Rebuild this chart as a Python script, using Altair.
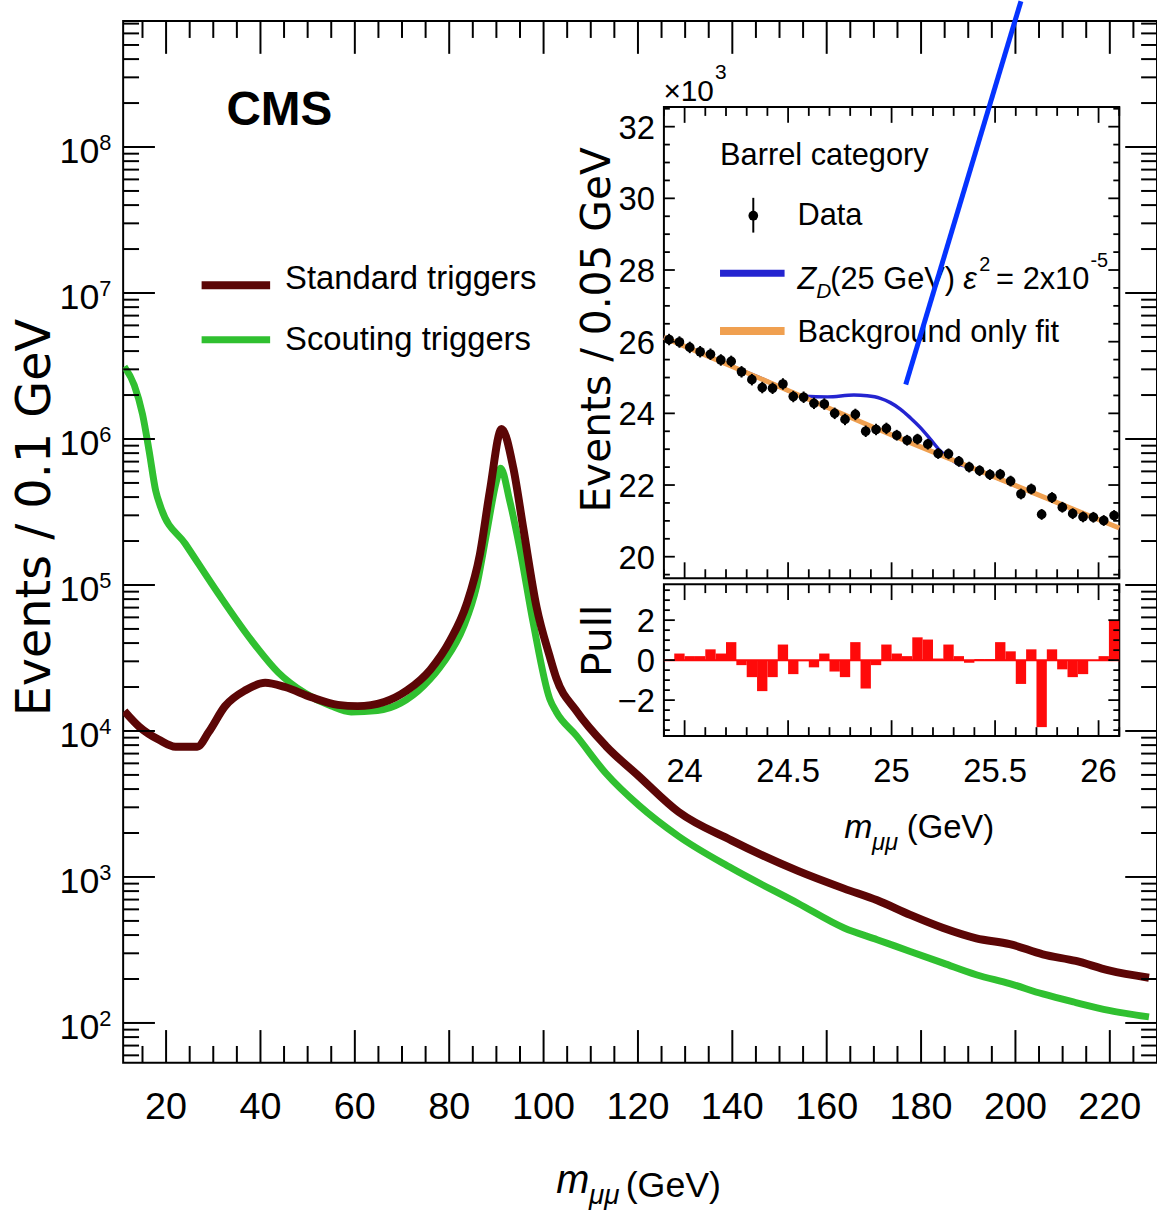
import altair as alt
import pandas as pd

# ---------------- main spectrum: events / 0.1 GeV ----------------
std_mass = [11.15, 14.3, 18.5, 22.0, 26.6, 29.0, 32.5, 36.8, 41.0, 45.2, 50.8, 56.4, 60.6,
            66.2, 71.1, 76.0, 80.2, 83.7, 86.5, 88.6, 91.1, 93.6, 95.7, 98.5, 101.3, 102.7,
            106.9, 113.2, 120.2, 128.6, 139.8, 153.9, 163.7, 170.7, 177.7, 184.7, 191.7,
            198.8, 205.8, 212.8, 219.8, 228.3]
std_events = [13700, 10700, 8700, 7800, 7800, 9800, 14800, 19000, 21400, 20000, 17000, 15100,
              14800, 15800, 19000, 26300, 41700, 74100, 162000, 437000, 1170000, 630000,
              245000, 71000, 32400, 23000, 13800, 7900, 4900, 2790, 1780, 1100, 832, 692,
              550, 447, 380, 347, 295, 266, 229, 204]

sct_mass = [11.15, 13.25, 15.0, 16.4, 17.8, 18.9, 24.1, 31.1, 38.1, 43.8, 49.4, 55.0, 59.2,
            64.8, 69.7, 74.6, 78.8, 83.0, 85.8, 87.9, 90.0, 90.9, 92.8, 94.9, 97.8, 101.3,
            102.7, 106.9, 113.2, 120.2, 128.6, 139.8, 153.9, 163.7, 170.7, 177.7, 184.7,
            191.7, 198.8, 205.8, 212.8, 219.8, 228.3]
sct_events = [3130000, 2340000, 1480000, 830000, 442000, 339000, 191000, 87000, 41700, 25100,
              18200, 14800, 13500, 13800, 15500, 20400, 29500, 51300, 97700, 224000, 513000,
              631000, 380000, 182000, 55000, 16600, 13500, 9330, 5130, 3090, 1900, 1150, 661,
              447, 372, 309, 257, 214, 186, 158, 138, 122, 110]

# ---------------- barrel category around 25 GeV (x10^3 events / 0.05 GeV) ----------------
bin_mass = [round(23.925 + 0.05 * i, 3) for i in range(44)]
data_k = [26.06, 25.99, 25.84, 25.72, 25.65, 25.49, 25.45, 25.16, 24.94, 24.72,
          24.70, 24.82, 24.47, 24.45, 24.28, 24.26, 24.00, 23.83, 23.97, 23.50,
          23.55, 23.58, 23.39, 23.25, 23.28, 23.14, 22.88, 22.87, 22.66, 22.50,
          22.40, 22.29, 22.30, 22.11, 21.75, 21.89, 21.18, 21.65, 21.38, 21.20,
          21.11, 21.10, 21.01, 21.15]
data_err_k = [0.16, 0.16, 0.16, 0.16, 0.16, 0.16, 0.16, 0.16, 0.16, 0.16, 0.16,
              0.16, 0.16, 0.16, 0.16, 0.16, 0.16, 0.16, 0.16, 0.16, 0.16, 0.16,
              0.15, 0.15, 0.15, 0.15, 0.15, 0.15, 0.15, 0.15, 0.15, 0.15, 0.15,
              0.15, 0.15, 0.15, 0.15, 0.15, 0.15, 0.15, 0.15, 0.15, 0.15, 0.15]
pull = [0.0, 0.33, 0.2, 0.2, 0.54, 0.33, 0.9, -0.25, -0.85, -1.55,
        -0.85, 0.78, -0.7, -0.05, -0.36, 0.33, -0.57, -0.85, 0.9, -1.42,
        -0.25, 0.78, 0.33, 0.2, 1.14, 1.03, 0.08, 0.78, 0.2, -0.13,
        0.05, 0.05, 0.9, 0.44, -1.19, 0.54, -3.35, 0.54, -0.46, -0.85,
        -0.7, 0.0, 0.2, 1.96]

fit_mass = [23.9, 24.5, 25.0, 25.5, 26.1]
fit_k = [26.12, 24.64, 23.40, 22.22, 20.80]

zd_mass = [23.9, 24.2, 24.4, 24.467, 24.578, 24.69, 24.818, 24.882, 24.946, 24.994, 25.042,
           25.09, 25.138, 25.186, 25.234, 25.282, 25.33, 25.377, 25.45, 26.1]
zd_k = [26.12, 25.38, 24.90, 24.72, 24.48, 24.46, 24.51, 24.49, 24.42, 24.30, 24.12,
        23.88, 23.61, 23.29, 22.96, 22.73, 22.57, 22.50, 22.33, 20.80]

# ---------------- axis tick values and labels ----------------
main_x_labels = [20, 40, 60, 80, 100, 120, 140, 160, 180, 200, 220]
main_x_minor = [v for v in range(15, 230, 5) if v % 20]
main_y_labels = [1e2, 1e3, 1e4, 1e5, 1e6, 1e7, 1e8]
main_y_exp = ["2", "3", "4", "5", "6", "7", "8"]
main_y_minor = [k * 10 ** d for d in range(1, 9) for k in range(2, 10)
                if 53.3 <= k * 10 ** d <= 7.29e8]
inset_x_labels = [24, 24.5, 25, 25.5, 26]
inset_x_text = ["24", "24.5", "25", "25.5", "26"]
inset_x_minor = [round(23.9 + 0.1 * i, 2) for i in range(23) if round((23.9 + 0.1 * i) * 10) % 5]
inset_y_labels = [20, 22, 24, 26, 28, 30, 32]
inset_y_minor = [v / 2 for v in range(39, 66) if v % 4]
pull_labels = [-2, 0, 2]
pull_text = ["\u22122", "0", "2"]
pull_minor = [v / 2 for v in range(-7, 8) if v % 4]

# ---------------- layout / style ----------------
W, H = 1041, 1049
PAD_L, PAD_T = 124, 17
IX0, IX1 = 544.5, 1003       # inset horizontal extent
IY_TOP, IY_BOT = 86.5, 561   # inset upper panel
PY_TOP, PY_BOT = 567, 720    # inset pull panel

SANS = "Liberation Sans, Arial, Helvetica, sans-serif"
WIDE = "DejaVu Sans, Liberation Sans, sans-serif"
BROWN = "#5c0606"
GREEN = "#30c030"
BLUE = "#2424d0"
ORANGE = "#f0a050"
RED = "#ff0a0a"
ANNOT = "#0533ff"

ONE = pd.DataFrame({"k": [0]})

main_x = alt.Scale(domain=[10.9, 230], range=[0, W], nice=False, zero=False)
main_y = alt.Scale(type="log", domain=[53.3, 7.29e8], range=[H, 0], nice=False)
ins_x = alt.Scale(domain=[23.9, 26.1], range=[IX0, IX1], nice=False, zero=False)
ins_y = alt.Scale(domain=[19.4, 32.55], range=[IY_BOT, IY_TOP], nice=False, zero=False)
pul_x = alt.Scale(domain=[23.9, 26.1], range=[IX0, IX1], nice=False, zero=False)
pul_y = alt.Scale(domain=[-3.8, 3.8], range=[PY_BOT, PY_TOP], nice=False, zero=False)


def xticks(values, scale, edge, length, width=2):
    return alt.Chart(pd.DataFrame({"v": values})).mark_rule(color="black", strokeWidth=width).encode(
        x=alt.X("v:Q", scale=scale, axis=None),
        y=alt.value(edge), y2=alt.value(edge - length))


def yticks(values, scale, edge, length, width=2):
    return alt.Chart(pd.DataFrame({"v": values})).mark_rule(color="black", strokeWidth=width).encode(
        y=alt.Y("v:Q", scale=scale, axis=None),
        x=alt.value(edge), x2=alt.value(edge + length))


def xlabels(values, texts, scale, y, size):
    return alt.Chart(pd.DataFrame({"v": values, "t": texts})).mark_text(
        font=SANS, fontSize=size, align="center", baseline="alphabetic", color="black").encode(
        x=alt.X("v:Q", scale=scale, axis=None), y=alt.value(y), text="t:N")


def ylabels(values, texts, scale, x, size, dy, align="right"):
    return alt.Chart(pd.DataFrame({"v": values, "t": texts})).mark_text(
        font=SANS, fontSize=size, align=align, baseline="alphabetic", dy=dy, color="black").encode(
        y=alt.Y("v:Q", scale=scale, axis=None), x=alt.value(x), text="t:N")


def label(text, x, y, size, font=SANS, style="normal", weight="normal",
          align="left", baseline="alphabetic", angle=0):
    return alt.Chart(ONE).mark_text(text=text, font=font, fontSize=size, fontStyle=style,
                                    fontWeight=weight, align=align, baseline=baseline,
                                    angle=angle, color="black").encode(
        x=alt.value(x), y=alt.value(y))


def seg(x1, x2, y, color, width):
    return alt.Chart(ONE).mark_rule(color=color, strokeWidth=width).encode(
        x=alt.value(x1), x2=alt.value(x2), y=alt.value(y))


def box(x1, x2, y1, y2):
    return alt.Chart(ONE).mark_rect(fill="white", stroke="black", strokeWidth=2).encode(
        x=alt.value(x1), x2=alt.value(x2), y=alt.value(y1), y2=alt.value(y2))


# ---------------- main panel ----------------
green_line = alt.Chart(pd.DataFrame({"mass": sct_mass, "events": sct_events})).mark_line(
    color=GREEN, strokeWidth=7, interpolate="monotone", clip=True).encode(
    x=alt.X("mass:Q", scale=main_x, axis=None),
    y=alt.Y("events:Q", scale=main_y, axis=None))

brown_line = alt.Chart(pd.DataFrame({"mass": std_mass, "events": std_events})).mark_line(
    color=BROWN, strokeWidth=8, interpolate="monotone", clip=True).encode(
    x=alt.X("mass:Q", scale=main_x, axis=None),
    y=alt.Y("events:Q", scale=main_y, axis=None))

main = alt.layer(
    green_line, brown_line,
    xticks(main_x_labels, main_x, H, 33), xticks(main_x_minor, main_x, H, 17),
    xticks(main_x_labels, main_x, 0, -33), xticks(main_x_minor, main_x, 0, -17),
    yticks(main_y_labels, main_y, 0, 32), yticks(main_y_minor, main_y, 0, 16),
    yticks(main_y_labels, main_y, W, -32), yticks(main_y_minor, main_y, W, -16),
    xlabels(main_x_labels, [str(v) for v in main_x_labels], main_x, 1106, 38),
    ylabels(main_y_labels, ["10"] * len(main_y_labels), main_y, -24, 36, 16),
    ylabels(main_y_labels, main_y_exp, main_y, -24, 22, 3, align="left"),
)

# ---------------- inset: fit panel ----------------
pts = pd.DataFrame({"mass": bin_mass, "k": data_k})
pts["lo"] = pts["k"] - pd.Series(data_err_k)
pts["hi"] = pts["k"] + pd.Series(data_err_k)

zd_line = alt.Chart(pd.DataFrame({"mass": zd_mass, "k": zd_k})).mark_line(
    color=BLUE, strokeWidth=3.5, interpolate="monotone").encode(
    x=alt.X("mass:Q", scale=ins_x, axis=None),
    y=alt.Y("k:Q", scale=ins_y, axis=None))
fit_line = alt.Chart(pd.DataFrame({"mass": fit_mass, "k": fit_k})).mark_line(
    color=ORANGE, strokeWidth=5, interpolate="monotone").encode(
    x=alt.X("mass:Q", scale=ins_x, axis=None),
    y=alt.Y("k:Q", scale=ins_y, axis=None))
err_bars = alt.Chart(pts).mark_rule(color="black", strokeWidth=2).encode(
    x=alt.X("mass:Q", scale=ins_x, axis=None),
    y=alt.Y("lo:Q", scale=ins_y, axis=None), y2="hi:Q")
dots = alt.Chart(pts).mark_point(filled=True, size=95, color="black", opacity=1).encode(
    x=alt.X("mass:Q", scale=ins_x, axis=None),
    y=alt.Y("k:Q", scale=ins_y, axis=None))

inset_top = alt.layer(
    zd_line, fit_line, err_bars, dots,
    xticks(inset_x_labels, ins_x, IY_BOT, 16, 1.8), xticks(inset_x_minor, ins_x, IY_BOT, 9, 1.8),
    xticks(inset_x_labels, ins_x, IY_TOP, -16, 1.8), xticks(inset_x_minor, ins_x, IY_TOP, -9, 1.8),
    yticks(inset_y_labels, ins_y, IX0, 11, 1.8), yticks(inset_y_minor, ins_y, IX0, 6, 1.8),
    yticks(inset_y_labels, ins_y, IX1, -11, 1.8), yticks(inset_y_minor, ins_y, IX1, -6, 1.8),
    ylabels(inset_y_labels, [str(v) for v in inset_y_labels], ins_y, IX0 - 9, 33, 12),
)

# ---------------- inset: pull panel ----------------
pull_df = pd.DataFrame({"lo": [m - 0.025 for m in bin_mass],
                        "hi": [m + 0.025 for m in bin_mass], "pull": pull})
pull_bars = alt.Chart(pull_df).mark_rect(color=RED).encode(
    x=alt.X("lo:Q", scale=pul_x, axis=None),
    x2="hi:Q",
    y=alt.Y("pull:Q", scale=pul_y, axis=None),
    y2=alt.datum(0))
pull_zero = alt.Chart(pd.DataFrame({"lo": [23.9], "hi": [26.1], "z": [0]})).mark_rule(
    color=RED, strokeWidth=2).encode(
    x=alt.X("lo:Q", scale=pul_x, axis=None), x2="hi:Q",
    y=alt.Y("z:Q", scale=pul_y, axis=None))

inset_pull = alt.layer(
    pull_zero, pull_bars,
    xticks(inset_x_labels, pul_x, PY_BOT, 16, 1.8), xticks(inset_x_minor, pul_x, PY_BOT, 9, 1.8),
    xticks(inset_x_labels, pul_x, PY_TOP, -16, 1.8), xticks(inset_x_minor, pul_x, PY_TOP, -9, 1.8),
    yticks(pull_labels, pul_y, IX0, 11, 1.8), yticks(pull_minor, pul_y, IX0, 6, 1.8),
    yticks(pull_labels, pul_y, IX1, -11, 1.8), yticks(pull_minor, pul_y, IX1, -6, 1.8),
    xlabels(inset_x_labels, inset_x_text, pul_x, 766, 33),
    ylabels(pull_labels, pull_text, pul_y, IX0 - 9, 33, 12),
)

# ---------------- titles, legends, annotations ----------------
texts = [
    label("CMS", 104, 105, 48, weight="bold"),
    seg(79, 148, 266, BROWN, 8),
    seg(79, 148, 321, GREEN, 7),
    label("Standard triggers", 163, 270, 33),
    label("Scouting triggers", 163, 331, 33),
    # main axis titles
    label("Events / 0.1 GeV", -88, 500, 48, font=WIDE, align="center",
          baseline="middle", angle=270),
    label("m", 436, 1180, 40, style="italic"),
    label("\u03bc\u03bc", 469, 1191, 28, style="italic"),
    label("(GeV)", 506, 1184, 36),
    # inset titles
    label("\u00d710", 544, 80, 30),
    label("3", 596, 58, 21),
    label("Events / 0.05 GeV", 478, 311, 41, font=WIDE, align="center",
          baseline="middle", angle=270),
    label("Pull", 479, 624, 41, font=WIDE, align="center", baseline="middle", angle=270),
    label("m", 726, 823, 34, style="italic"),
    label("\u03bc\u03bc", 754, 835, 24, style="italic"),
    label("(GeV)", 789, 823, 33),
    # inset legend
    label("Barrel category", 601, 145, 31),
    alt.Chart(ONE).mark_rule(color="black", strokeWidth=2).encode(
        x=alt.value(634.5), y=alt.value(178), y2=alt.value(213)),
    alt.Chart(ONE).mark_point(filled=True, size=95, color="black", opacity=1).encode(
        x=alt.value(634.5), y=alt.value(196)),
    label("Data", 679, 205, 31),
    seg(601, 666, 254, BLUE, 7),
    label("Z", 679, 270, 31, style="italic"),
    label("D", 698, 279, 21, style="italic"),
    label("(25 GeV)", 712, 270, 31),
    label("\u03b5", 846, 270, 31, style="italic"),
    label("2", 862, 252, 20),
    label("= 2x10", 879, 270, 31),
    label("-5", 974, 248, 20),
    seg(601, 666, 312, ORANGE, 8),
    label("Background only fit", 679, 323, 31),
]

annotation = alt.Chart(ONE).mark_rule(color=ANNOT, strokeWidth=5).encode(
    x=alt.value(904), y=alt.value(-20), x2=alt.value(788), y2=alt.value(366))

chart = alt.layer(
    main,
    box(IX0, IX1, IY_TOP, IY_BOT),
    box(IX0, IX1, PY_TOP, PY_BOT),
    inset_top,
    inset_pull,
    *texts,
    annotation,
).resolve_scale(x="independent", y="independent").properties(
    width=W, height=H,
    autosize=alt.AutoSizeParams(type="none"),
    padding={"left": PAD_L, "top": PAD_T, "right": 0, "bottom": 149},
    background="white",
).configure_view(stroke="black", strokeWidth=2)

chart.save("out.html", embed_options={"renderer": "svg", "actions": False})
